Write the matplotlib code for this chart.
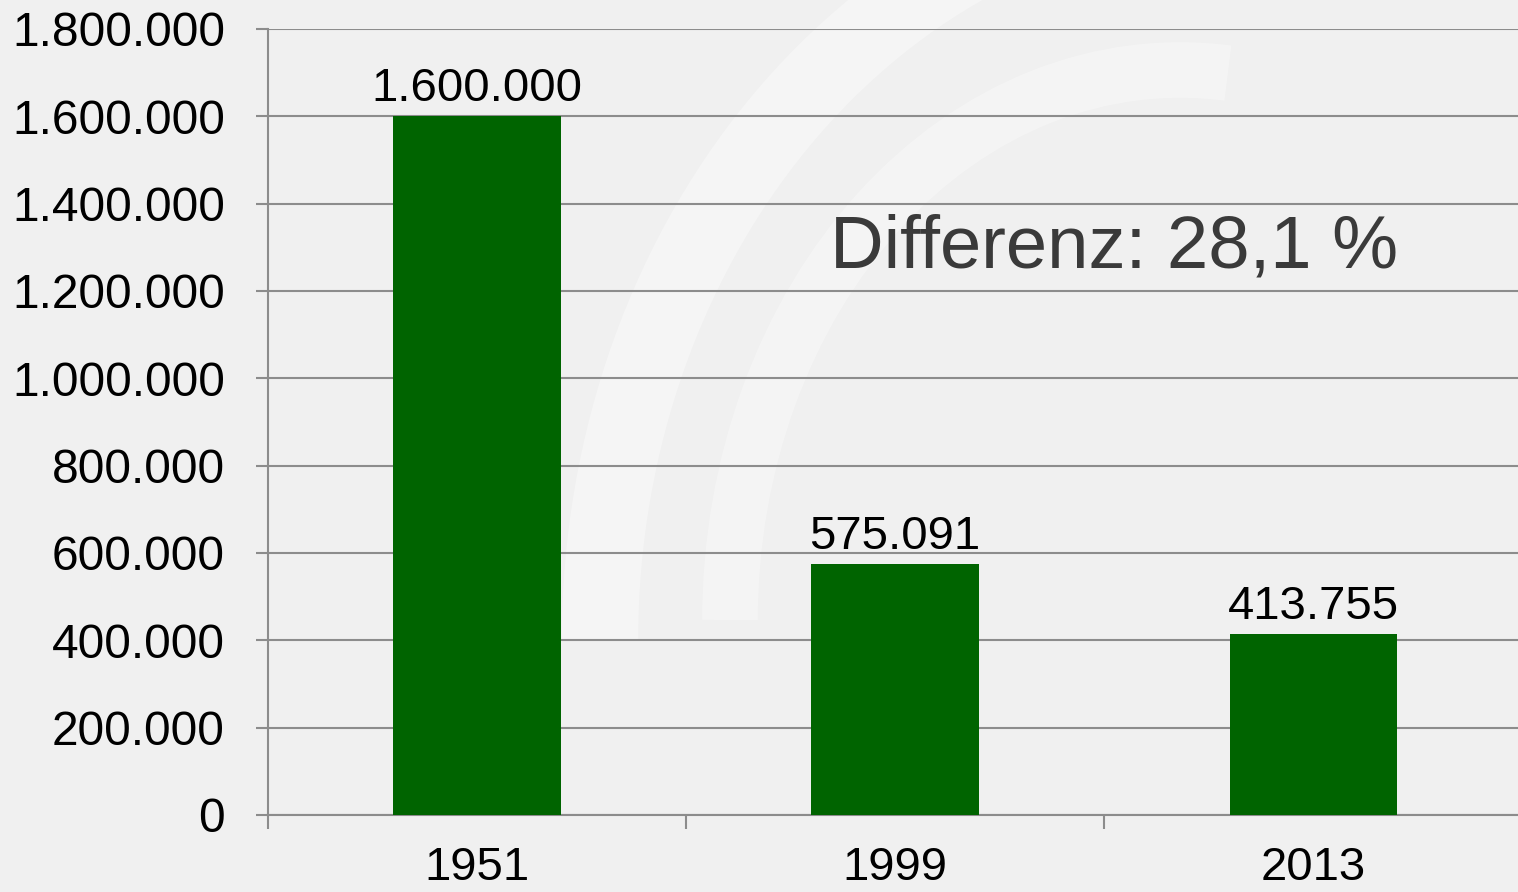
import matplotlib.pyplot as plt
from matplotlib.patches import Arc
from matplotlib.ticker import FuncFormatter

plt.rcParams['font.family'] = ['Liberation Sans', 'DejaVu Sans']

years = ['1951', '1999', '2013']
values = [1600000, 575091, 413755]
value_labels = ['1.600.000', '575.091', '413.755']
note = 'Differenz: 28,1 %'

bg = '#f0f0f0'
green = '#006400'
grid_color = '#8c8c8c'


def dotted(v, pos):
    return f'{int(v):,}'.replace(',', '.')


fig = plt.figure(figsize=(15.18, 8.92), dpi=100, facecolor=bg)

# faint decorative swoosh behind everything
deco = fig.add_axes([0, 0, 1, 1], zorder=-1)
deco.set_xlim(0, 1518)
deco.set_ylim(892, 0)
deco.axis('off')
deco.add_patch(Arc((1250, 640), 1300, 1500, angle=0, theta1=180, theta2=270,
                   color='white', lw=55, alpha=0.35))
deco.add_patch(Arc((1180, 620), 900, 1100, angle=0, theta1=180, theta2=275,
                   color='white', lw=40, alpha=0.3))

ax = fig.add_axes([268 / 1518, 77 / 892, 1 - 268 / 1518, 786 / 892])
ax.set_facecolor('none')

x = range(len(years))
bars = ax.bar(x, values, width=0.4, color=green, zorder=3)

for b, lab in zip(bars, value_labels):
    ax.text(b.get_x() + b.get_width() / 2, b.get_height() + 12000, lab,
            ha='center', va='bottom', fontsize=34, color='black')

ax.text(0.904, 0.721, note, transform=ax.transAxes, ha='right', va='center',
        fontsize=53.5, color='#3a3a3a')

ax.set_ylim(0, 1800000)
ax.set_xlim(-0.5, 2.49)
ax.set_yticks(range(0, 1800001, 200000))
ax.yaxis.set_major_formatter(FuncFormatter(dotted))
ax.set_xticks(x)
ax.set_xticklabels(years)
ax.set_xticks([-0.5, 0.5, 1.5], minor=True)

ax.grid(axis='y', color=grid_color, lw=1.5, zorder=1)
for s in ['top', 'right']:
    ax.spines[s].set_visible(False)
for s in ['left', 'bottom']:
    ax.spines[s].set_color(grid_color)
    ax.spines[s].set_linewidth(1.5)

ax.tick_params(axis='y', labelsize=34.5, length=9, width=1.5, color=grid_color, pad=22)
ax.tick_params(axis='x', which='major', labelsize=34, length=0, pad=22)
ax.tick_params(axis='x', which='minor', length=10, width=1.5, color=grid_color)

fig.savefig('out.png', dpi=100, facecolor=bg)
